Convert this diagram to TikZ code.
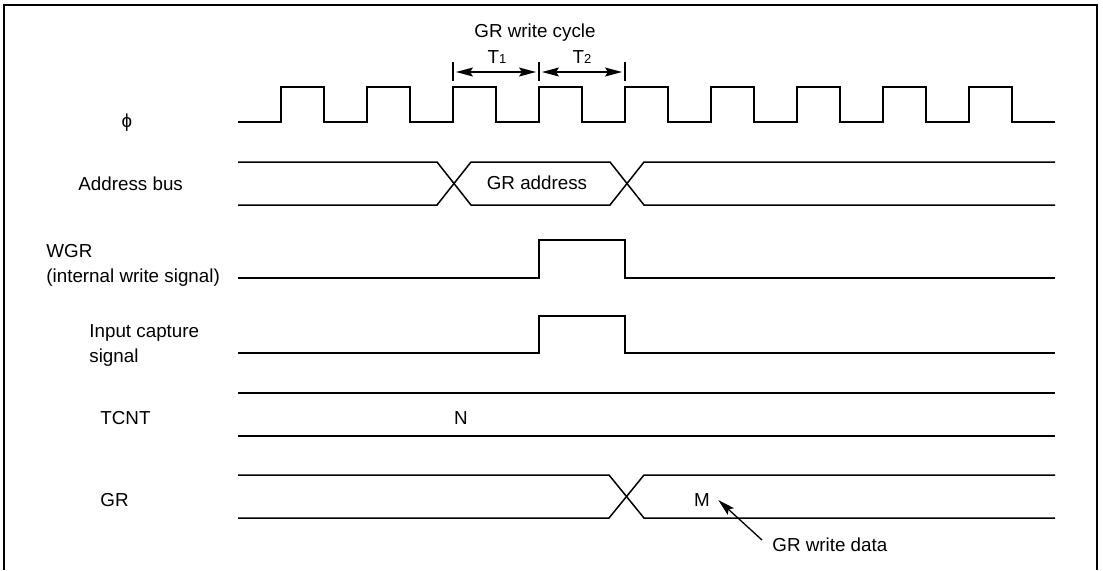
\documentclass[tikz,border=0pt]{standalone}
\usepackage{fontspec}
\setmainfont{Liberation Sans}
\usetikzlibrary{arrows.meta,positioning}

\tikzset{
  wave/.style={line width=0.75pt},
  lbl/.style={inner sep=0pt,font=\fontsize{9.4}{12.5}\selectfont},
  ptr/.style={line width=0.65pt,-{Stealth[length=8.5pt,width=4.5pt,inset=1.5pt]}},
  span/.style={line width=0.65pt,{Stealth[length=8.5pt,width=4.5pt,inset=1.5pt]}-{Stealth[length=8.5pt,width=4.5pt,inset=1.5pt]},shorten <=1.5pt,shorten >=1.5pt}
}
\newcommand{\sub}[1]{{\fontsize{6.5}{7}\selectfont #1}}

\begin{document}
\begin{tikzpicture}[x=0.5pt,y=-0.5pt]
    \useasboundingbox (0,0) rectangle (1103,570);
    % frame, open at the bottom
    \draw[line width=1pt] (4,570) -- (4,5) -- (1097,5) -- (1097,570);

    % signal names
    \node[lbl] (phil) at (127,123) {ϕ};
    \node[lbl,anchor=west] (addrl) at (78,184) {Address bus};
    \node[lbl,anchor=west,align=left] (wgrl) at (46,265) {WGR\\(internal write signal)};
    \node[lbl,anchor=west,align=left] (icl) at (89,345) {Input capture\\signal};
    \node[lbl,anchor=west] (tcntl) at (100,418) {TCNT};
    \node[lbl,anchor=west] (grl) at (100,500) {GR};

    % clock
    \draw[wave] (238,122) \foreach \k in {1,...,9}{ -- ++(43,0) -- ++(0,-35) -- ++(43,0) -- ++(0,35)} -- ++(43,0);

    % write cycle T1, T2
    \foreach \i/\x in {0/453,1/539,2/625} {
        \coordinate (t\i) at (\x,72);
        \draw[line width=0.65pt] (\x,62) -- (\x,81);
    }
    \draw[span] (t0) -- (t1);
    \draw[span] (t1) -- (t2);
    \node[lbl] (tone) at (497,57) {T\sub{1}};
    \node[lbl] (ttwo) at (582,57) {T\sub{2}};
    \node[lbl] (cyc) at (535,33) {GR write cycle};

    % address bus
    \draw[wave] (238,162) -- (437,162) -- (471,205) -- (610,205) -- (644,162) -- (1055,162);
    \draw[wave] (238,205) -- (437,205) -- (471,162) -- (610,162) -- (644,205) -- (1055,205);
    \node[lbl] (addr) at (537,183) {GR address};

    % WGR
    \draw[wave] (238,278) -- (539,278) -- (539,240) -- (625,240) -- (625,278) -- (1055,278);

    % input capture signal
    \draw[wave] (238,353) -- (539,353) -- (539,316) -- (625,316) -- (625,353) -- (1055,353);

    % TCNT
    \draw[wave] (238,393) -- (1055,393);
    \draw[wave] (238,436) -- (1055,436);
    \node[lbl] (nval) at (461,418) {N};

    % GR
    \draw[wave] (238,475) -- (609,475) -- (644,518) -- (1055,518);
    \draw[wave] (238,518) -- (609,518) -- (644,475) -- (1055,475);
    \node[lbl] (mval) at (702,500) {M};
    \node[lbl,anchor=west] (gwd) at (772,545) {GR write data};
    \draw[ptr] ([xshift=-5pt,yshift=2.5pt]gwd.west) -- ([xshift=4pt]mval.east);
\end{tikzpicture}
\end{document}
